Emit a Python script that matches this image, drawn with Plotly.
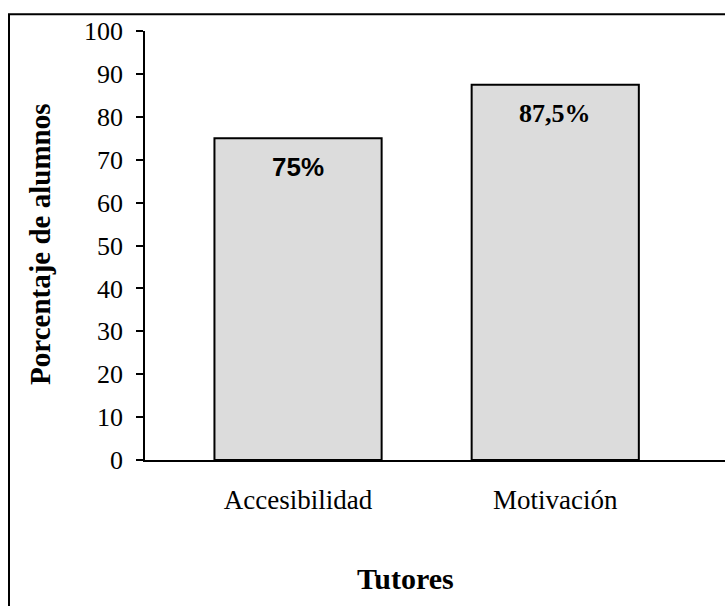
import plotly.graph_objects as go

categories = ["Accesibilidad", "Motivación"]
values = [75, 87.5]
labels = ["75%", "87,5%"]
label_fonts = ["Liberation Sans", "Liberation Serif"]
y_ticks = [0, 10, 20, 30, 40, 50, 60, 70, 80, 90, 100]

W, H = 725, 606
L, R, T, B = 145, 0, 30.7, 145.5
pw, ph = W - L - R, H - T - B

def px_x(px):
    return (px - L) / pw

def px_y(py):
    return (H - B - py) / ph

fig = go.Figure()
fig.add_trace(go.Bar(
    x=categories, y=values,
    marker=dict(color="#DCDCDC", line=dict(color="black", width=2)),
    width=0.65, hoverinfo="skip",
))

for c, v, t, f in zip(categories, values, labels, label_fonts):
    fig.add_annotation(x=c, y=v, xref="x", yref="y", text="<b>" + t + "</b>",
                       showarrow=False, xanchor="center", yanchor="middle", yshift=-29,
                       font=dict(family=f, size=26, color="black"))

fig.add_annotation(x=px_x(40), y=px_y(245), xref="paper", yref="paper",
                   xanchor="center", yanchor="middle",
                   text="<b>Porcentaje de alumnos</b>", textangle=-90, showarrow=False,
                   font=dict(family="Liberation Serif", size=29, color="black"))
fig.add_annotation(x=px_x(405), y=px_y(579), xref="paper", yref="paper",
                   xanchor="center", yanchor="middle",
                   text="<b>Tutores</b>", showarrow=False,
                   font=dict(family="Liberation Serif", size=30, color="black"))

fig.add_shape(type="rect", xref="paper", yref="paper",
              x0=px_x(9), x1=px_x(760), y0=px_y(700), y1=px_y(14),
              line=dict(color="black", width=2), fillcolor="rgba(0,0,0,0)", layer="above")

fig.update_layout(
    width=W, height=H,
    margin=dict(l=L, r=R, t=T, b=B, pad=0),
    paper_bgcolor="white", plot_bgcolor="white",
    showlegend=False,
    font=dict(family="Liberation Serif", size=26, color="black"),
    xaxis=dict(range=[-0.595, 1.66], showline=True, linecolor="black", linewidth=1.5,
               ticks="", showgrid=False, zeroline=False, ticklabelstandoff=15,
               tickfont=dict(family="Liberation Serif", size=27, color="black")),
    yaxis=dict(range=[0, 100], tickvals=y_ticks, showline=True, linecolor="black",
               linewidth=1.5, ticks="outside", ticklen=7, tickwidth=1.5, tickcolor="black",
               showgrid=False, zeroline=False, ticklabelstandoff=8,
               tickfont=dict(family="Liberation Serif", size=26, color="black")),
)

fig.write_html("out.html", config={"displayModeBar": False},
               post_script="document.body.style.margin='0px';document.body.style.overflow='hidden';")
